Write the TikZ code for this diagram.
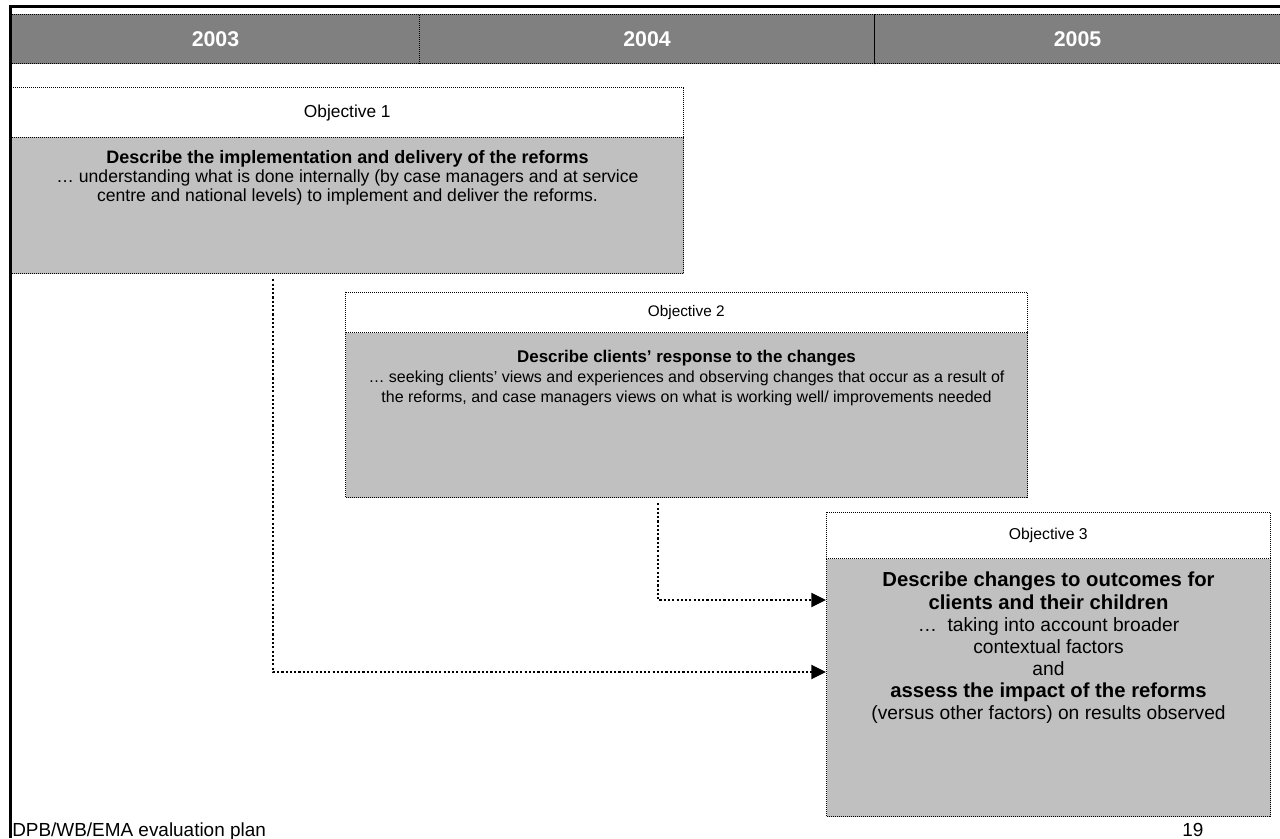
\documentclass[tikz,border=0pt]{standalone}
\usepackage{fontspec}
\setmainfont{Liberation Sans}
\usetikzlibrary{calc,arrows.meta}
\definecolor{bandgray}{HTML}{808080}
\definecolor{boxgray}{HTML}{C0C0C0}
\newcommand{\fsz}[2]{\fontsize{#1}{#2}\selectfont}
\newcommand{\heavy}[1]{{\fsz{15.2}{16.6}\bfseries #1}}
\begin{document}
\begin{tikzpicture}[x=0.75pt,y=-0.75pt,
  dotedge/.style={draw=black, line width=0.75pt, dash pattern=on 0.75pt off 0.75pt},
  yearcell/.style={dotedge, fill=bandgray, anchor=north west, inner sep=0pt,
    minimum height=37pt, text=white, font=\fsz{16}{18}\bfseries},
  objhead/.style={fill=white, anchor=north west, inner sep=0pt},
  objbody/.style={dotedge, fill=boxgray, anchor=north west, inner sep=0pt},
  objtext/.style={anchor=north, align=center, inner sep=0pt},
  conn/.style={line width=1.6pt, dash pattern=on 1.6pt off 1.6pt,
    -{Triangle[length=11pt,width=10.5pt]}, shorten <=4pt},
  frame/.style={line width=1.6pt, draw=black}]
\useasboundingbox (0,0) rectangle (1280,838);

% year band
\node[yearcell, minimum width=306pt]    (y2003) at (11,14)  {2003};
\node[yearcell, minimum width=341.25pt] (y2004) at (419,14) {2004};
\node[yearcell, minimum width=304.5pt]  (y2005) at (874,14) {2005};

% objective 1
\node[objbody, minimum width=504pt, minimum height=102pt] (b1) at (11,137) {};
\node[objhead, minimum width=504pt, minimum height=36.75pt, font=\fsz{13}{15}] (h1) at (11,88) {Objective 1};
\draw[dotedge] (h1.south west) -- (h1.north west) -- (h1.north east) -- (h1.south east);
\node[objtext, font=\fsz{13.2}{14.25}] (t1) at ($(b1.north)+(0,13)$)
  {{\fsz{13.5}{14.25}\bfseries Describe the implementation and delivery of the reforms}\\
   … understanding what is done internally (by case managers and at service\\
   centre and national levels) to implement and deliver the reforms.};

% objective 2
\node[objbody, minimum width=511.5pt, minimum height=123.75pt] (b2) at (345,332) {};
\node[objhead, minimum width=511.5pt, minimum height=30pt, font=\fsz{11.5}{13}] (h2) at (345,292) {Objective 2};
\draw[dotedge] (h2.south west) -- (h2.north west) -- (h2.north east) -- (h2.south east);
\node[objtext, font=\fsz{12}{15}] (t2) at ($(b2.north)+(0,18)$)
  {{\fsz{12.7}{15}\bfseries Describe clients’ response to the changes}\\
   … seeking clients’ views and experiences and observing changes that occur as a result of\\
   the reforms, and case managers views on what is working well/ improvements needed};

% objective 3
\node[objbody, minimum width=333pt, minimum height=193.5pt] (b3) at (826,558) {};
\node[objhead, minimum width=333pt, minimum height=34.5pt, font=\fsz{11.8}{13}] (h3) at (826,512) {Objective 3};
\draw[dotedge] (h3.south west) -- (h3.north west) -- (h3.north east) -- (h3.south east);
\node[objtext, font=\fsz{14.4}{16.6}] (t3) at ($(b3.north)+(0,14)$)
  {\heavy{Describe changes  to  outcomes for}\\
   \heavy{clients and their children}\\
   … \ taking into account broader\\
   contextual factors\\
   and\\
   \heavy{assess the impact of the reforms}\\
   (versus other factors) on results observed};

% connectors
\coordinate (k1) at (273,672);
\coordinate (k2) at (658,600);
\draw[conn] (b1.south -| k1) |- (b3.west |- k1);
\draw[conn] (b2.south -| k2) |- (b3.west |- k2);

% page frame
\draw[frame] (10.5,838) -- (10.5,6.5) -- (1280,6.5);

% footer
\node[anchor=base west, inner sep=0pt, font=\fsz{14.2}{16}] (foot) at (12,836) {DPB/WB/EMA evaluation plan};
\node[anchor=base west, inner sep=0pt, font=\fsz{14.2}{16}] (pageno) at (1182,836) {19};
\end{tikzpicture}
\end{document}
